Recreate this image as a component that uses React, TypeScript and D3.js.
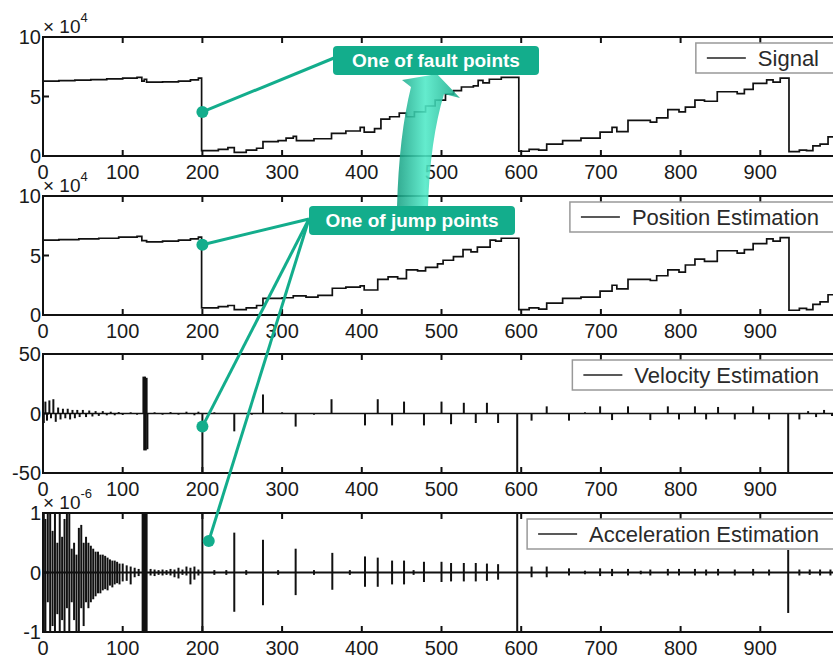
import React, { useRef, useEffect } from 'react';
import * as d3 from 'd3';

const W = 833;
const H = 658;

// x axis (sample index)
const xTickValues = [0, 100, 200, 300, 400, 500, 600, 700, 800, 900];

// signal (x 10^4), step breakpoints
const signalX = [0, 20, 40, 60, 80, 100, 118, 124, 127, 130, 150, 170, 185, 195, 199, 220, 232, 240, 255, 268, 276, 295, 305, 314, 318, 340, 362, 380, 398, 403, 416, 424, 435, 447, 456, 466, 480, 492, 505, 515, 525, 540, 546, 552, 560, 575, 597, 610, 622, 632, 652, 675, 699, 714, 720, 734, 762, 770, 784, 798, 806, 818, 830, 846, 871, 880, 891, 908, 916, 925, 936, 949, 958, 966, 975, 985, 1000];
const signalV = [6.3, 6.33, 6.38, 6.42, 6.48, 6.55, 6.6, 6.3, 6.45, 6.2, 6.23, 6.3, 6.4, 6.55, 0.45, 0.55, 0.7, 0.3, 0.5, 0.65, 1.2, 1.3, 1.5, 1.65, 1.3, 1.45, 1.9, 2.1, 2.4, 2.0, 2.3, 3.1, 3.3, 3.6, 3.3, 3.7, 4.2, 4.7, 5.2, 5.5, 5.8, 5.9, 6.35, 6.15, 6.45, 6.6, 0.4, 0.55, 0.5, 1.0, 1.3, 1.5, 2.0, 2.4, 2.05, 3.0, 2.85, 3.2, 3.9, 3.7, 4.1, 4.7, 4.6, 5.4, 5.25, 5.6, 6.1, 6.4, 6.2, 6.55, 0.37, 0.5, 0.45, 0.85, 1.0, 1.6, 1.8];

// position estimation (x 10^4)
const positionX = [0, 20, 45, 70, 95, 118, 124, 130, 150, 170, 185, 195, 199, 220, 232, 240, 255, 268, 276, 300, 314, 330, 345, 363, 380, 398, 403, 420, 433, 445, 456, 470, 480, 495, 502, 515, 527, 537, 545, 561, 568, 575, 597, 610, 622, 632, 652, 675, 699, 714, 720, 734, 762, 770, 784, 798, 806, 818, 830, 846, 871, 880, 891, 908, 916, 925, 936, 949, 958, 966, 975, 985, 1000];
const positionV = [6.3, 6.33, 6.4, 6.45, 6.55, 6.6, 6.25, 6.15, 6.2, 6.3, 6.4, 6.55, 0.6, 0.7, 0.8, 0.45, 0.6, 0.8, 1.4, 1.45, 1.6, 1.5, 1.65, 2.25, 2.35, 2.45, 2.1, 3.0, 3.2, 3.05, 3.8, 3.7, 4.0, 4.3, 4.6, 4.9, 5.5, 5.3, 5.7, 6.3, 6.2, 6.45, 0.45, 0.6, 0.5, 1.0, 1.4, 1.5, 2.0, 2.5, 2.2, 3.0, 2.9, 3.3, 3.8, 3.6, 4.2, 4.7, 4.5, 5.4, 5.2, 5.5, 6.0, 6.4, 6.2, 6.5, 0.4, 0.55, 0.45, 0.9, 1.1, 1.7, 1.8];

// velocity estimation spikes
const velX = [1, 3, 5, 8, 10, 13, 16, 19, 22, 25, 28, 31, 34, 37, 40, 43, 46, 50, 54, 58, 62, 66, 70, 75, 80, 85, 90, 95, 100, 110, 118, 126, 127, 128, 129, 130, 131, 140, 150, 160, 170, 180, 190, 195, 200, 215, 240, 262, 276, 300, 317, 340, 362, 404, 420, 438, 453, 478, 500, 512, 528, 543, 557, 571, 595, 613, 632, 660, 680, 699, 714, 734, 762, 784, 798, 818, 832, 847, 868, 891, 911, 935, 949, 960, 970, 980, 990];
const velV = [-8, 10, -6, 11, -4, 12, -7, 5, -5, 4, -4, 4, -5, 3, -4, 3, -3, 3, -3, 2.5, -2.5, 2, -2, 2, -1.5, 1.5, -1.5, 1.2, -1.2, 1, -1, 31, -31, 31, -31, 30, -30, 1, -1, 1.2, -1, 1.5, -1.5, 1.5, -60, 1, -15, -1, 16, 1, -11, -1, 12, -10, 12, -10, 10, -10, 10, -9, 9, -8, 9, -8, -60, -6, 6, -6, 1, 6, -5.5, 6, -5.5, 6, -5, 6, -5, 5.5, -5, 6, -5, -60, -5, 2, -3, 3, -2];

// acceleration estimation (x 10^-6), high / low of each spike
const accX = [1, 3, 6, 9, 12, 15, 18, 21, 24, 27, 30, 33, 36, 39, 42, 45, 48, 51, 54, 57, 60, 63, 66, 69, 72, 75, 78, 81, 84, 87, 90, 93, 96, 100, 105, 110, 115, 120, 125, 126, 127, 128, 129, 130, 135, 140, 145, 150, 155, 160, 165, 170, 175, 180, 185, 190, 195, 200, 215, 230, 240, 255, 276, 295, 317, 340, 363, 385, 404, 420, 438, 453, 465, 478, 500, 512, 528, 543, 557, 571, 595, 613, 632, 660, 680, 699, 714, 734, 750, 762, 784, 798, 818, 832, 847, 868, 891, 911, 935, 949, 962, 975, 988];
const accHi = [1.2, 0.9, 1.2, 1.2, 0.7, 1.2, 0.5, 1.2, 0.6, 0.9, 1.2, 1.2, 0.4, 0.5, 0.3, 0.75, 0.8, 0.5, 0.6, 0.5, 0.45, 0.4, 0.35, 0.35, 0.3, 0.3, 0.28, 0.25, 0.22, 0.2, 0.2, 0.18, 0.15, 0.15, 0.12, 0.1, 0.08, 0.06, 1.2, 1.2, 1.2, 1.2, 1.2, 1.2, 0.06, 0.05, 0.04, 0.05, 0.04, 0.06, 0.05, 0.08, 0.05, 0.1, 0.08, 0.1, 0.05, 1.2, 0.04, 0.04, 0.67, 0.04, 0.55, 0.04, 0.4, 0.04, 0.33, 0.04, 0.27, 0.25, 0.2, 0.2, 0.04, 0.18, 0.18, 0.16, 0.16, 0.16, 0.15, 0.14, 1.2, 0.1, 0.1, 0.07, 0.03, 0.07, 0.06, 0.06, 0.03, 0.05, 0.06, 0.06, 0.06, 0.05, 0.06, 0.05, 0.06, 0.05, 0.38, 0.05, 0.05, 0.05, 0.05];
const accLo = [-1.2, -1.2, -0.5, -1.2, -0.9, -1.2, -0.7, -1.2, -0.8, -1.2, -0.6, -1.2, -0.5, -0.8, -1.2, -1.0, -0.6, -0.9, -0.5, -0.6, -0.5, -0.45, -0.4, -0.35, -0.35, -0.3, -0.28, -0.3, -0.22, -0.25, -0.2, -0.18, -0.2, -0.15, -0.14, -0.2, -0.08, -0.06, -1.2, -1.2, -1.2, -1.2, -1.2, -1.2, -0.05, -0.06, -0.04, -0.05, -0.04, -0.05, -0.08, -0.1, -0.04, -0.05, -0.2, -0.12, -0.05, -1.2, -0.04, -0.04, -0.66, -0.04, -0.55, -0.04, -0.38, -0.04, -0.29, -0.04, -0.24, -0.24, -0.2, -0.2, -0.04, -0.16, -0.16, -0.15, -0.15, -0.15, -0.14, -0.12, -1.2, -0.08, -0.08, -0.05, -0.03, -0.06, -0.06, -0.05, -0.03, -0.05, -0.05, -0.05, -0.05, -0.05, -0.05, -0.05, -0.05, -0.05, -0.68, -0.05, -0.04, -0.05, -0.05];

// panel axis labels
const legendNames = ['Signal', 'Position Estimation', 'Velocity Estimation', 'Acceleration Estimation'];
const yDomains = [[0, 10], [0, 10], [-50, 50], [-1, 1]];
const yTickValues = [[0, 5, 10], [0, 5, 10], [-50, 0, 50], [-1, 0, 1]];
const exponents = ['4', '4', '', '-6'];

// annotation anchors (panel index, x, y in data units)
const faultPoint = { panel: 0, x: 200, y: 3.7 };
const jumpPoints = [
  { panel: 1, x: 200, y: 5.9 },
  { panel: 2, x: 200, y: -11 },
  { panel: 3, x: 208, y: 0.53 },
];

const FONT = "'Liberation Sans', Arial, Helvetica, sans-serif";
const TEAL = '#13ad8c';

function App() {
  const svgRef = useRef<SVGSVGElement>(null);

  useEffect(() => {
    const svg = d3.select(svgRef.current);
    svg.selectAll('*').remove();

    const left = 43;
    const right = 840;
    const panelTops = [37, 196, 354, 513];
    const panelH = 119;

    const x = d3.scaleLinear().domain([0, 1000]).range([left, right]);

    const defs = svg.append('defs');
    const grad = defs.append('linearGradient')
      .attr('id', 'arrowGrad')
      .attr('x1', 0).attr('y1', 0).attr('x2', 1).attr('y2', 0);
    grad.append('stop').attr('offset', 0).attr('stop-color', '#17a083');
    grad.append('stop').attr('offset', 0.45).attr('stop-color', '#4fe9c7');
    grad.append('stop').attr('offset', 1).attr('stop-color', '#16a787');

    const yScales = panelTops.map((top, i) =>
      d3.scaleLinear().domain(yDomains[i]).range([top + panelH, top]));

    panelTops.forEach((top, i) => {
      const y = yScales[i];
      const bottom = top + panelH;
      const g = svg.append('g');

      defs.append('clipPath').attr('id', `clip${i}`)
        .append('rect')
        .attr('x', left).attr('y', top)
        .attr('width', right - left).attr('height', panelH);

      const plot = g.append('g').attr('clip-path', `url(#clip${i})`);

      if (i < 2) {
        const xs = i === 0 ? signalX : positionX;
        const vs = i === 0 ? signalV : positionV;
        const line = d3.line<number>()
          .x(k => x(xs[k]))
          .y(k => y(vs[k]))
          .curve(d3.curveStepAfter);
        plot.append('path')
          .attr('d', line(d3.range(xs.length)))
          .attr('fill', 'none')
          .attr('stroke', '#111')
          .attr('stroke-width', 1.7);
      } else if (i === 2) {
        plot.append('line')
          .attr('x1', x(0)).attr('x2', x(1000))
          .attr('y1', y(0)).attr('y2', y(0))
          .attr('stroke', '#111').attr('stroke-width', 1.5);
        plot.selectAll('line.spike')
          .data(d3.range(velX.length))
          .enter().append('line')
          .attr('class', 'spike')
          .attr('x1', k => x(velX[k])).attr('x2', k => x(velX[k]))
          .attr('y1', y(0)).attr('y2', k => y(velV[k]))
          .attr('stroke', '#111')
          .attr('stroke-width', 2);
      } else {
        plot.append('line')
          .attr('x1', x(0)).attr('x2', x(1000))
          .attr('y1', y(0)).attr('y2', y(0))
          .attr('stroke', '#111').attr('stroke-width', 2);
        plot.selectAll('line.spike')
          .data(d3.range(accX.length))
          .enter().append('line')
          .attr('class', 'spike')
          .attr('x1', k => x(accX[k])).attr('x2', k => x(accX[k]))
          .attr('y1', k => y(accHi[k])).attr('y2', k => y(accLo[k]))
          .attr('stroke', '#111')
          .attr('stroke-width', 2);
      }

      // frame
      g.append('rect')
        .attr('x', left).attr('y', top)
        .attr('width', right - left).attr('height', panelH)
        .attr('fill', 'none')
        .attr('stroke', '#111')
        .attr('stroke-width', 2);

      // x ticks top and bottom
      g.selectAll('line.xt')
        .data(xTickValues)
        .enter().append('line')
        .attr('x1', d => x(d)).attr('x2', d => x(d))
        .attr('y1', bottom).attr('y2', bottom - 6)
        .attr('stroke', '#111').attr('stroke-width', 2);
      g.selectAll('line.xtt')
        .data(xTickValues)
        .enter().append('line')
        .attr('x1', d => x(d)).attr('x2', d => x(d))
        .attr('y1', top).attr('y2', top + 6)
        .attr('stroke', '#111').attr('stroke-width', 2);

      g.selectAll('text.xl')
        .data(xTickValues)
        .enter().append('text')
        .attr('x', d => x(d))
        .attr('y', bottom + 23)
        .attr('text-anchor', 'middle')
        .attr('font-family', FONT)
        .attr('font-size', 20)
        .attr('fill', '#1a1a1a')
        .text(d => d);

      // y ticks
      g.selectAll('line.yt')
        .data(yTickValues[i])
        .enter().append('line')
        .attr('x1', left).attr('x2', left + 6)
        .attr('y1', d => y(d)).attr('y2', d => y(d))
        .attr('stroke', '#111').attr('stroke-width', 2);
      g.selectAll('text.yl')
        .data(yTickValues[i])
        .enter().append('text')
        .attr('x', left - 2)
        .attr('y', d => y(d))
        .attr('dy', '0.36em')
        .attr('text-anchor', 'end')
        .attr('font-family', FONT)
        .attr('font-size', 20)
        .attr('fill', '#1a1a1a')
        .text(d => d);

      if (exponents[i]) {
        const t = g.append('text')
          .attr('x', left)
          .attr('y', top - 4)
          .attr('font-family', FONT)
          .attr('font-size', 19)
          .attr('fill', '#1a1a1a')
          .text('\u00d7 10');
        t.append('tspan')
          .attr('dy', -11)
          .attr('font-size', 13)
          .text(exponents[i]);
      }

      // legend
      const lg = g.append('g');
      const boxTop = top + 6;
      const txt = lg.append('text')
        .attr('x', 819)
        .attr('y', boxTop + 23)
        .attr('text-anchor', 'end')
        .attr('font-family', FONT)
        .attr('font-size', 22)
        .attr('fill', '#2a2a2a')
        .text(legendNames[i]);
      const tw = (txt.node() as SVGTextElement).getComputedTextLength();
      const boxLeft = 819 - tw - 62;
      lg.insert('rect', 'text')
        .attr('x', boxLeft).attr('y', boxTop)
        .attr('width', 860 - boxLeft).attr('height', 30)
        .attr('fill', '#fff')
        .attr('stroke', '#999')
        .attr('stroke-width', 1.5);
      lg.append('line')
        .attr('x1', boxLeft + 11).attr('x2', boxLeft + 50)
        .attr('y1', boxTop + 15).attr('y2', boxTop + 15)
        .attr('stroke', '#222').attr('stroke-width', 1.5);
    });

    // annotations
    const ann = svg.append('g');
    const px = (p: { panel: number; x: number; y: number }) => [x(p.x), yScales[p.panel](p.y)];

    const [fx, fy] = px(faultPoint);
    ann.append('line')
      .attr('x1', 334).attr('y1', 58).attr('x2', fx).attr('y2', fy)
      .attr('stroke', TEAL).attr('stroke-width', 3);
    ann.append('circle').attr('cx', fx).attr('cy', fy).attr('r', 6).attr('fill', TEAL);

    jumpPoints.forEach(p => {
      const [jx, jy] = px(p);
      ann.append('line')
        .attr('x1', 309).attr('y1', 219).attr('x2', jx).attr('y2', jy)
        .attr('stroke', TEAL).attr('stroke-width', 3);
      ann.append('circle').attr('cx', jx).attr('cy', jy).attr('r', 6).attr('fill', TEAL);
    });

    // curved arrow from jump box to fault box
    ann.append('path')
      .attr('d', 'M397,207 Q399,135 411,87 L402,80 L437,74 L460,98 L444,94 Q430,140 428,207 Z')
      .attr('fill', 'url(#arrowGrad)')
      .attr('opacity', 0.88);

    const boxes = [
      { x: 333, y: 46, w: 206, h: 29, label: 'One of fault points' },
      { x: 309, y: 206, w: 206, h: 29, label: 'One of jump points' },
    ];
    boxes.forEach(b => {
      ann.append('rect')
        .attr('x', b.x).attr('y', b.y)
        .attr('width', b.w).attr('height', b.h)
        .attr('rx', 4)
        .attr('fill', TEAL);
      ann.append('text')
        .attr('x', b.x + b.w / 2)
        .attr('y', b.y + b.h / 2)
        .attr('dy', '0.36em')
        .attr('text-anchor', 'middle')
        .attr('font-family', FONT)
        .attr('font-weight', 'bold')
        .attr('font-size', 19)
        .attr('fill', '#fff')
        .text(b.label);
    });
  }, []);

  return (
    <svg
      ref={svgRef}
      width={W}
      height={H}
      style={{ position: 'absolute', left: 0, top: 0, background: '#fff' }}
    />
  );
}

export default App;
